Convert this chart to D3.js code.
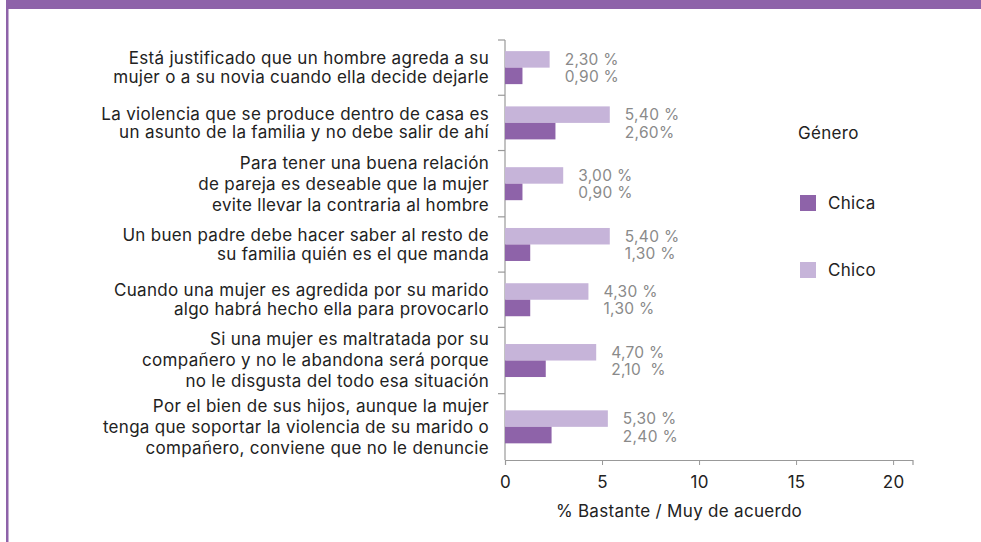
<!DOCTYPE html>
<html>
<head>
<meta charset="utf-8">
<script src="https://cdn.jsdelivr.net/npm/d3@7"></script>
<style>
  body { margin: 0; background: #fff; }
  svg { display: block; font-family: Inter, "Open Sans", sans-serif; letter-spacing: 0.3px; }
</style>
</head>
<body>
<div id="chart"></div>
<script>
// Categories (label lines), values per gender, value labels
const categories = [
  ["Está justificado que un hombre agreda a su", "mujer o a su novia cuando ella decide dejarle"],
  ["La violencia que se produce dentro de casa es", "un asunto de la familia y no debe salir de ahí"],
  ["Para tener una buena relación", "de pareja es deseable que la mujer", "evite llevar la contraria al hombre"],
  ["Un buen padre debe hacer saber al resto de", "su familia quién es el que manda"],
  ["Cuando una mujer es agredida por su marido", "algo habrá hecho ella para provocarlo"],
  ["Si una mujer es maltratada por su", "compañero y no le abandona será porque", "no le disgusta del todo esa situación"],
  ["Por el bien de sus hijos, aunque la mujer", "tenga que soportar la violencia de su marido o", "compañero, conviene que no le denuncie"]
];
const chico = [2.3, 5.4, 3.0, 5.4, 4.3, 4.7, 5.3];
const chica = [0.9, 2.6, 0.9, 1.3, 1.3, 2.1, 2.4];
const chicoLabels = ["2,30 %", "5,40 %", "3,00 %", "5,40 %", "4,30 %", "4,70 %", "5,30 %"];
const chicaLabels = ["0,90 %", "2,60%", "0,90 %", "1,30 %", "1,30 %", "2,10  %", "2,40 %"];
const xTicks = [0, 5, 10, 15, 20];
const legendItems = ["Chica", "Chico"];

const W = 981, H = 542;
const purple = "#8e63a9", lilac = "#c6b4d9";
const plot = {left: 505, right: 912.5, top: 40, bottom: 460};

const svg = d3.select("#chart").append("svg")
  .attr("width", W).attr("height", H);

// frame: top band + left stripe
svg.append("rect").attr("x", 6).attr("y", 0).attr("width", W - 6).attr("height", 9).attr("fill", purple);
svg.append("rect").attr("x", 6).attr("y", 0).attr("width", 2.5).attr("height", H).attr("fill", purple);

// rows take height according to their number of label lines
const weights = categories.map(c => c.length === 3 ? 6 : 5);
const starts = d3.cumsum([0, ...weights]);
const y = d3.scaleLinear().domain([0, starts[starts.length - 1]]).range([plot.top, plot.bottom]);

const x = d3.scaleLinear().domain([0, 21]).range([plot.left, plot.right]);
const barH = 16.5;

const rows = categories.map((c, i) => ({
  lines: c, chico: chico[i], chica: chica[i],
  chicoLabel: chicoLabels[i], chicaLabel: chicaLabels[i],
  y0: y(starts[i]), y1: y(starts[i + 1])
}));

// y axis line & ticks
svg.append("line").attr("x1", plot.left).attr("x2", plot.left)
  .attr("y1", plot.top).attr("y2", plot.bottom).attr("stroke", "#999").attr("stroke-width", 1.2);
svg.selectAll(".ytick").data(rows).enter().append("line")
  .attr("x1", plot.left - 7).attr("x2", plot.left)
  .attr("y1", d => d.y0).attr("y2", d => d.y0)
  .attr("stroke", "#999").attr("stroke-width", 1.2);

// x axis
const xAxis = svg.append("g")
  .attr("transform", `translate(0,${plot.bottom})`)
  .call(d3.axisBottom(x).tickValues(xTicks).tickSize(5).tickPadding(11));
xAxis.select(".domain").attr("stroke", "#999").attr("stroke-width", 1.2);
xAxis.selectAll(".tick line").attr("stroke", "#999");
xAxis.selectAll("text").attr("fill", "#222").style("font-size", "17px").style("font-family", "Inter, sans-serif");

svg.append("text")
  .attr("x", 679).attr("y", 511).attr("dy", "0.35em")
  .attr("text-anchor", "middle").attr("fill", "#222").style("font-size", "17px")
  .text("% Bastante / Muy de acuerdo");

// category labels
const lab = svg.selectAll(".cat").data(rows).enter().append("text")
  .attr("class", "cat").attr("text-anchor", "end").attr("fill", "#222").style("font-size", "17px");
lab.each(function(d) {
  const lh = d.lines.length === 3 ? 21 : 18.5;
  const mid = (d.y0 + d.y1) / 2;
  d3.select(this).selectAll("tspan").data(d.lines).enter().append("tspan")
    .attr("x", 489)
    .attr("y", (t, j) => mid + (j - (d.lines.length - 1) / 2) * lh)
    .attr("dy", "0.35em")
    .text(t => t);
});

// bars
const g = svg.selectAll(".row").data(rows).enter().append("g");
g.append("rect")
  .attr("x", x(0)).attr("y", d => (d.y0 + d.y1) / 2 - barH)
  .attr("width", d => x(d.chico) - x(0)).attr("height", barH).attr("fill", lilac);
g.append("rect")
  .attr("x", x(0)).attr("y", d => (d.y0 + d.y1) / 2)
  .attr("width", d => x(d.chica) - x(0)).attr("height", barH).attr("fill", purple);

// value labels
g.append("text")
  .attr("x", d => x(d.chico) + 15).attr("y", d => (d.y0 + d.y1) / 2 - barH / 2)
  .attr("dy", "0.35em").attr("fill", "#8a8a8a").style("font-size", "15.5px").style("white-space", "pre")
  .text(d => d.chicoLabel);
g.append("text")
  .attr("x", d => x(d.chico) + 15).attr("y", d => (d.y0 + d.y1) / 2 + barH / 2 + 1)
  .attr("dy", "0.35em").attr("fill", "#8a8a8a").style("font-size", "15.5px").style("white-space", "pre")
  .text(d => d.chicaLabel);

// legend
svg.append("text").attr("x", 798).attr("y", 133).attr("dy", "0.35em")
  .attr("fill", "#222").style("font-size", "17px").text("Género");
const leg = svg.selectAll(".leg").data(legendItems).enter().append("g")
  .attr("transform", (d, i) => `translate(800,${195 + i * 67})`);
leg.append("rect").attr("width", 16).attr("height", 16)
  .attr("fill", (d, i) => i === 0 ? purple : lilac);
leg.append("text").attr("x", 28).attr("y", 8).attr("dy", "0.35em")
  .attr("fill", "#222").style("font-size", "17px").text(d => d);
</script>
</body>
</html>
